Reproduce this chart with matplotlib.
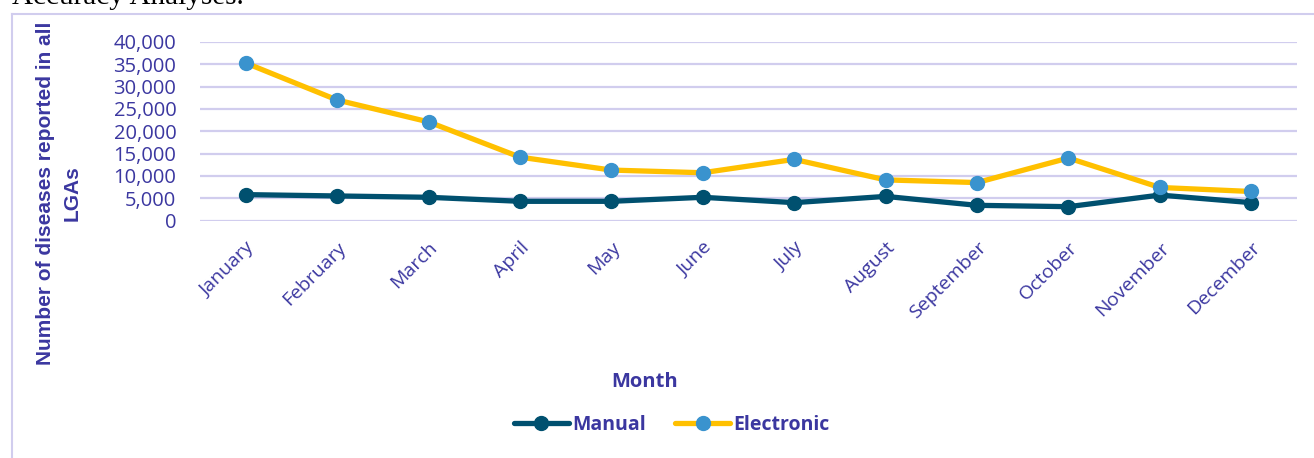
import matplotlib
matplotlib.use("Agg")
import matplotlib.pyplot as plt
from matplotlib.lines import Line2D
from matplotlib.ticker import FuncFormatter, MultipleLocator

months = ["January", "February", "March", "April", "May", "June", "July",
          "August", "September", "October", "November", "December"]
manual = [5800, 5500, 5200, 4300, 4300, 5200, 4000, 5400, 3400, 3100, 5700, 4000]
electronic = [35300, 27000, 22100, 14200, 11300, 10700, 13700, 9100, 8500, 14000, 7400, 6500]

TEXT = "#3B37A0"
GRID = "#D1CDEE"
MANUAL_C = "#00506F"
ELEC_LINE = "#FFC000"
ELEC_MARK = "#3A93CE"

W, H = 1314, 458
fig = plt.figure(figsize=(W / 100, H / 100), dpi=100)

# chart frame (left and top edges visible)
fig.add_artist(Line2D([12 / W, 12 / W], [0, 1 - 14 / H], color=GRID, lw=1.5,
                      transform=fig.transFigure))
fig.add_artist(Line2D([12 / W, 1], [1 - 14 / H, 1 - 14 / H], color=GRID, lw=1.5,
                      transform=fig.transFigure))

# running text above the chart
fig.text(12 / W, 1 - 4 / H, "Accuracy Analyses.", family="Liberation Serif",
         fontsize=21, color="black", va="baseline", ha="left")

ax = fig.add_axes([200 / W, 1 - 220.5 / H, 1097 / W, 178.5 / H])
x = list(range(len(months)))
ax.plot(x, manual, color=MANUAL_C, lw=3.8, marker="o", ms=10,
        mfc=MANUAL_C, mec=MANUAL_C, solid_capstyle="round", zorder=3)
ax.plot(x, electronic, color=ELEC_LINE, lw=3.8, marker="o", ms=10,
        mfc=ELEC_MARK, mec=ELEC_MARK, solid_capstyle="round", zorder=4)

ax.set_xlim(-0.5, 11.5)
ax.set_ylim(0, 40000)
ax.yaxis.set_major_locator(MultipleLocator(5000))
ax.yaxis.set_major_formatter(FuncFormatter(lambda v, p: f"{int(v):,}"))
ax.grid(axis="y", color=GRID, lw=1.6)
ax.set_axisbelow(True)
for s in ax.spines.values():
    s.set_visible(False)
ax.tick_params(axis="both", length=0)
ax.tick_params(axis="y", labelsize=14.5, labelcolor=TEXT, pad=17)
ax.set_xticks(x)
ax.set_xticklabels(months, rotation=45, ha="right", rotation_mode="anchor",
                   fontsize=14, color=TEXT, family="Open Sans")
ax.tick_params(axis="x", pad=13)
for t in ax.get_yticklabels():
    t.set_family("Open Sans")

fig.text(59 / W, 1 - 193.5 / H, "Number of diseases reported in all\nLGAs",
         rotation=90, ha="center", va="center", multialignment="center",
         fontsize=15, fontweight="bold", color=TEXT, family="Liberation Sans",
         linespacing=1.5)

fig.text(645 / W, 1 - 382 / H, "Month", ha="center", va="center",
         fontsize=14.5, fontweight="bold", color=TEXT, family="Open Sans")

handles = [
    Line2D([], [], color=MANUAL_C, lw=3.8, marker="o", ms=10, mfc=MANUAL_C,
           mec=MANUAL_C, solid_capstyle="round"),
    Line2D([], [], color=ELEC_LINE, lw=3.8, marker="o", ms=10, mfc=ELEC_MARK,
           mec=ELEC_MARK, solid_capstyle="round"),
]
leg = fig.legend(handles, ["Manual", "Electronic"], loc="center",
                 bbox_to_anchor=(672 / W, 1 - 425 / H), ncol=2, frameon=False,
                 handlelength=2.8, handletextpad=0.2, columnspacing=1.5,
                 prop={"family": "Open Sans", "weight": "bold", "size": 14})
for t in leg.get_texts():
    t.set_color(TEXT)

fig.savefig("out.png", dpi=100)
